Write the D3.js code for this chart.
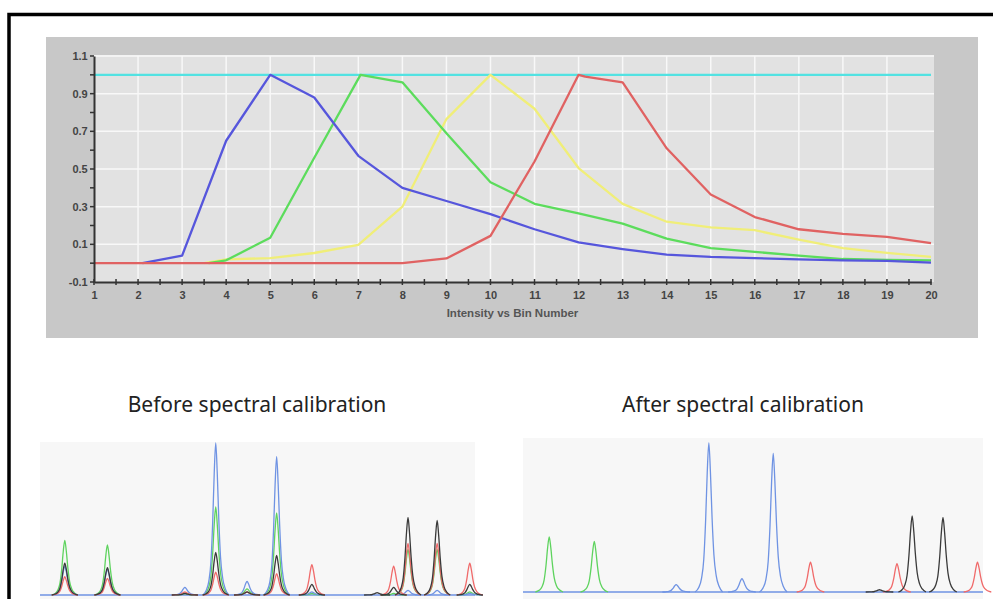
<!DOCTYPE html>
<html>
<head>
<meta charset="utf-8">
<script src="https://cdn.jsdelivr.net/npm/d3@7"></script>
<style>
  body { margin: 0; background: #fff; }
  svg { display: block; }
  .tick-label { font-family: "Liberation Sans", Arial, sans-serif; font-weight: bold; font-size: 11px; fill: #444; }
  .panel-title { font-family: "Noto Sans", sans-serif; font-size: 21px; fill: #222; }
</style>
</head>
<body>
<div id="chart"></div>
<script>
// Intensity vs bin number (top chart)
const cyanX = [1, 20];
const cyanY = [1, 1];
const yellowX = [3.5, 4, 5, 6, 7, 8, 9, 10, 11, 12, 13, 14, 15, 16, 17, 18, 19, 20];
const yellowY = [0, 0.02, 0.027, 0.054, 0.097, 0.30, 0.765, 1.0, 0.82, 0.505, 0.315, 0.22, 0.19, 0.175, 0.125, 0.08, 0.055, 0.033];
const greenX = [3.6, 4, 5, 6, 7.05, 8, 9, 10, 11, 12, 13, 14, 15, 16, 17, 18, 19, 20];
const greenY = [0, 0.015, 0.135, 0.56, 1.0, 0.96, 0.69, 0.43, 0.315, 0.265, 0.21, 0.13, 0.08, 0.06, 0.04, 0.022, 0.017, 0.015];
const blueX = [2.1, 3, 4, 5, 6, 7, 8, 9, 10, 11, 12, 13, 14, 15, 16, 17, 18, 19, 20];
const blueY = [0, 0.04, 0.65, 1.0, 0.88, 0.57, 0.40, 0.33, 0.26, 0.18, 0.11, 0.075, 0.045, 0.033, 0.027, 0.02, 0.015, 0.012, 0.003];
const redX = [1, 2, 3, 4, 5, 6, 7, 8, 9, 10, 11, 12, 12.15, 13, 14, 15, 16, 17, 18, 19, 20];
const redY = [0, 0, 0, 0, 0, 0, 0, 0, 0.025, 0.145, 0.54, 1.0, 0.99, 0.96, 0.61, 0.365, 0.245, 0.18, 0.155, 0.14, 0.107];
const xTicks = d3.range(1, 21);
const yTicks = [1.1, 0.9, 0.7, 0.5, 0.3, 0.1, -0.1];

// Electropherogram peaks (shared peak positions, heights per dye, % of tallest)
const peakPos = [57, 155, 333, 404, 476, 544, 625, 775, 813, 846, 913, 988];
const beforeGreen = [36, 33, 1, 58, 4, 54, 1, 0, 1, 30, 30, 2];
const beforeBlue  = [19, 17, 5, 100, 9, 91, 2, 0, 0, 3, 3, 1];
const beforeBlack = [21, 18, 1, 28, 2, 26, 7, 1.5, 5, 51, 49, 7];
const beforeRed   = [12, 11, 2, 15, 2, 14, 20, 0, 19, 34, 34, 21];
const afterGreen = [37, 34, 0, 0, 0, 0, 0, 0, 0, 0, 0, 0];
const afterBlue  = [0, 0, 5, 100, 9, 93, 0, 0, 0, 0, 0, 0];
const afterBlack = [0, 0, 0, 0, 0, 0, 0, 1.5, 0, 51, 50, 0];
const afterRed   = [0, 0, 0, 0, 0, 0, 20, 0, 19, 0, 0, 20];

const svg = d3.select("#chart").append("svg")
    .attr("width", 993)
    .attr("height", 599);

// outer frame
svg.append("rect")
    .attr("x", 9).attr("y", 14.5)
    .attr("width", 1100).attr("height", 700)
    .attr("fill", "none")
    .attr("stroke", "#000")
    .attr("stroke-width", 3.5);

// grey panel
svg.append("rect")
    .attr("x", 46).attr("y", 37)
    .attr("width", 932).attr("height", 301)
    .attr("fill", "#c8c8c8");

let x = d3.scaleLinear().domain([1, 20]).range([94, 931]);
let y = d3.scaleLinear().domain([-0.1, 1.1]).range([282, 56]);

svg.append("rect")
    .attr("x", x(1)).attr("y", y(1.1) - 1)
    .attr("width", 934 - x(1)).attr("height", y(-0.1) - y(1.1) + 1)
    .attr("fill", "#e2e2e2");

// grid
let grid = svg.append("g").attr("stroke", "#f8f8f8").attr("stroke-width", 1.5);
grid.selectAll(".vg")
    .data(xTicks.filter(d => d > 1 && d < 20))
    .enter().append("line")
    .attr("x1", d => x(d)).attr("x2", d => x(d))
    .attr("y1", y(1.1)).attr("y2", y(-0.1));
grid.selectAll(".hg")
    .data(yTicks.filter(d => d > -0.1))
    .enter().append("line")
    .attr("x1", x(1)).attr("x2", 934)
    .attr("y1", d => y(d)).attr("y2", d => y(d));

// series
let line = d3.line().x(d => x(d[0])).y(d => y(d[1]));
let series = [
    { xs: cyanX, ys: cyanY, color: "#52e2e2" },
    { xs: yellowX, ys: yellowY, color: "#f0ee78" },
    { xs: greenX, ys: greenY, color: "#5cdc5c" },
    { xs: blueX, ys: blueY, color: "#5656dc" },
    { xs: redX, ys: redY, color: "#e06262" }
];
series.forEach(s => {
    svg.append("path")
        .datum(s.xs.map((v, i) => [v, s.ys[i]]))
        .attr("fill", "none")
        .attr("stroke", s.color)
        .attr("stroke-width", 2.3)
        .attr("stroke-linejoin", "round")
        .attr("d", line);
});

// axes
let axisColor = "#333";
let xAxis = d3.axisBottom(x).tickValues(xTicks).tickSize(0).tickFormat(d => String(d));
let gx = svg.append("g").attr("transform", "translate(0," + y(-0.1) + ")").call(xAxis);
gx.select(".domain").attr("stroke", axisColor).attr("stroke-width", 2);
gx.selectAll("text").attr("class", "tick-label").attr("dy", "1.3em");
gx.attr("font-size", null).attr("font-family", null);
// x major + minor tick marks
svg.append("g").selectAll("line")
    .data(d3.range(1, 20.01, 0.5))
    .enter().append("line")
    .attr("x1", d => x(d)).attr("x2", d => x(d))
    .attr("y1", y(-0.1) - 3).attr("y2", y(-0.1) + 3)
    .attr("stroke", axisColor).attr("stroke-width", 1.5);

let yAxis = d3.axisLeft(y).tickValues(yTicks).tickSize(0).tickFormat(d => d.toFixed(1));
let gy = svg.append("g").attr("transform", "translate(" + x(1) + ",0)").call(yAxis);
gy.select(".domain").attr("stroke", axisColor).attr("stroke-width", 2);
gy.selectAll("text").attr("class", "tick-label").attr("dx", "-0.3em");
gy.attr("font-size", null).attr("font-family", null);
svg.append("g").selectAll("line")
    .data(d3.range(-0.1, 1.101, 0.1))
    .enter().append("line")
    .attr("x1", x(1) - 4).attr("x2", x(1))
    .attr("y1", d => y(d)).attr("y2", d => y(d))
    .attr("stroke", axisColor).attr("stroke-width", 1.5);

svg.append("text")
    .attr("class", "tick-label")
    .attr("text-anchor", "middle")
    .attr("x", (x(1) + x(20)) / 2)
    .attr("y", 317)
    .style("font-size", "11.5px")
    .style("fill", "#555")
    .text("Intensity vs Bin Number");

// electropherogram panels
let template = [[-30, 0], [-22, 0.03], [-16, 0.09], [-11, 0.22], [-7, 0.48], [-3.5, 0.8], [0, 1],
                [3.5, 0.8], [7, 0.5], [11, 0.25], [16, 0.11], [22, 0.04], [30, 0]];
let dyeColors = { green: "#5ed35e", blue: "#6f93e3", black: "#3a3a3a", red: "#f06a6a" };

function drawPanel(opts) {
    let g = svg.append("g");
    g.append("rect")
        .attr("x", opts.x0).attr("y", opts.top)
        .attr("width", opts.x1 - opts.x0).attr("height", 599 - opts.top)
        .attr("fill", "#f7f7f7");
    g.append("text")
        .attr("class", "panel-title")
        .attr("text-anchor", "middle")
        .attr("x", opts.titleX).attr("y", 412)
        .text(opts.title);
    let px = d3.scaleLinear().domain([0, 1000]).range([opts.x0, opts.x1]);
    let py = d3.scaleLinear().domain([0, 100]).range([opts.base, opts.peakTop]);
    let pl = d3.line().x(d => px(d[0])).y(d => py(d[1])).curve(d3.curveMonotoneX);
    // baseline
    g.append("line")
        .attr("x1", px(0)).attr("x2", px(1000))
        .attr("y1", py(0)).attr("y2", py(0))
        .attr("stroke", dyeColors.blue).attr("stroke-width", 1.5);
    opts.dyes.forEach(dye => {
        dye.values.forEach((h, i) => {
            if (h <= 0) return;
            g.append("path")
                .datum(template.map(t => [peakPos[i] + t[0], t[1] * h]))
                .attr("fill", "none")
                .attr("stroke", dyeColors[dye.name])
                .attr("stroke-width", 1.3)
                .attr("d", pl);
        });
    });
}

drawPanel({
    x0: 40, x1: 475, top: 442, base: 595, peakTop: 443,
    title: "Before spectral calibration", titleX: 257,
    dyes: [
        { name: "green", values: beforeGreen },
        { name: "blue", values: beforeBlue },
        { name: "red", values: beforeRed },
        { name: "black", values: beforeBlack }
    ]
});
drawPanel({
    x0: 523, x1: 983, top: 438, base: 592, peakTop: 443,
    title: "After spectral calibration", titleX: 743,
    dyes: [
        { name: "green", values: afterGreen },
        { name: "blue", values: afterBlue },
        { name: "red", values: afterRed },
        { name: "black", values: afterBlack }
    ]
});
</script>
</body>
</html>
